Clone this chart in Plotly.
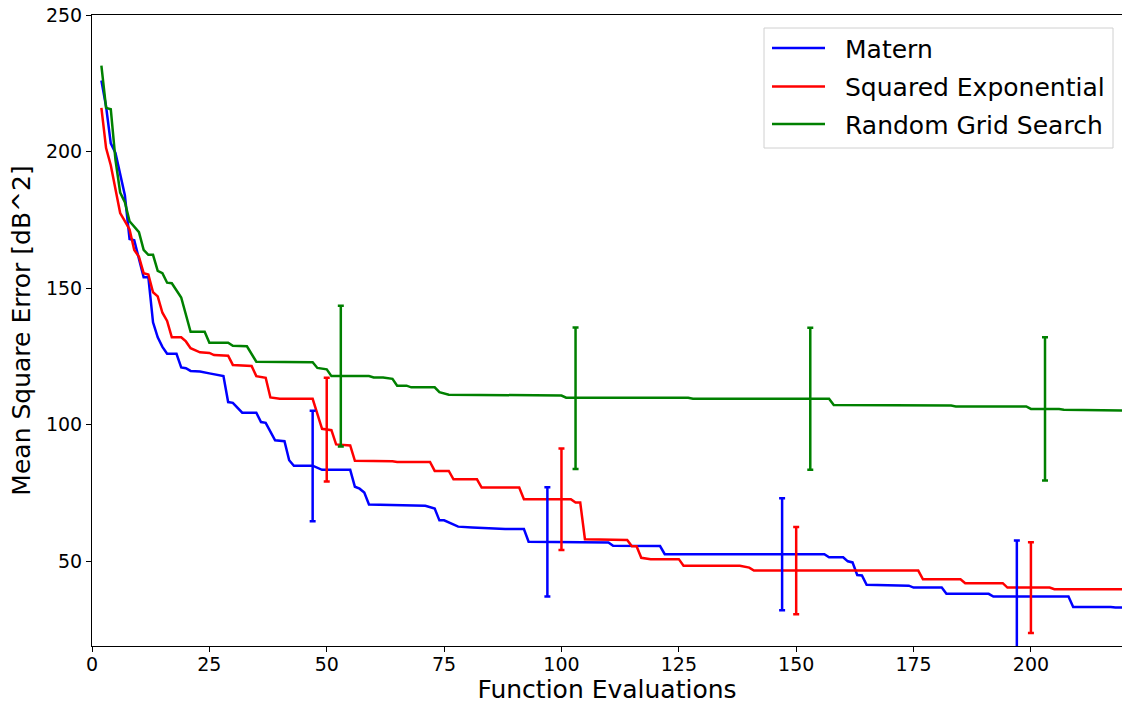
import plotly.graph_objects as go

# Matern (blue) - vertices
matern_x = [2, 3, 4, 5, 7, 8, 9, 10, 11, 12, 13, 14, 15, 16, 18, 19, 20, 21, 23, 25, 27, 28, 29, 30,
            32, 35, 36, 37, 39, 41, 42, 43, 47, 49, 55, 56, 57, 58, 59, 71, 73, 74, 75, 78, 81, 88, 92,
            93, 110, 111, 121, 122, 156, 157, 160, 161, 162, 163, 164, 165, 174, 175, 181, 182, 191,
            192, 208, 209, 217, 218, 220]
matern_y = [226, 216.5, 203, 199.5, 184, 168, 167.5, 161, 154, 154, 137.5, 132, 128.5, 126, 126, 121,
            120.7, 119.7, 119.5, 118.8, 118, 117.8, 108.3, 108, 104.4, 104.4, 101, 100.7, 94.3, 94,
            87, 85, 85, 83.5, 83.5, 77.3, 76.6, 75.2, 70.8, 70.3, 69.3, 65, 65, 62.7, 62.4, 61.8, 61.8,
            57.2, 56.9, 55.7, 55.6, 52.6, 52.6, 51.5, 51.5, 50, 49.6, 45, 44.8, 41.4, 41.1, 40.4, 40.4,
            38.1, 38.1, 37.1, 37.1, 33.3, 33.3, 33.1, 33.1]

# Squared Exponential (red)
sqexp_x = [2, 3, 4, 6, 7, 8, 9, 10, 11, 12, 13, 14, 15, 16, 17, 19, 20, 21, 23, 25, 26, 29, 30, 33,
           34, 35, 37, 38, 40, 47, 49, 51, 52, 55, 56, 64, 65, 72, 73, 76, 77, 82, 83, 91, 92, 102,
           103, 104, 105, 114, 115, 116, 117, 119, 125, 126, 138, 140, 141, 176, 177, 185, 186, 194,
           195, 204, 205, 220]
sqexp_y = [216, 201.3, 195, 177.5, 174.5, 171.5, 164, 161.5, 155.5, 155, 148.5, 147, 141, 138, 132,
           132, 130.5, 128, 126.5, 126.3, 125.5, 125.3, 121.9, 121.7, 121.5, 117.8, 117.2, 110, 109.5,
           109.5, 98.5, 98, 92.8, 92.4, 86.8, 86.6, 86.4, 86.4, 83.1, 83.1, 80, 80, 77, 77, 72.7, 72.7,
           71.5, 71.5, 58.1, 57.8, 55.5, 55.5, 51.3, 50.8, 50.8, 48.4, 48.4, 47.7, 46.6, 46.6, 43.4,
           43.4, 42, 42, 40.4, 40.4, 39.8, 39.8]

# Random Grid Search (green)
rgs_x = [2, 3, 4, 5, 6, 7, 8, 9, 10, 11, 12, 13, 14, 15, 16, 17, 18, 19, 21, 24, 25, 29, 30, 33, 35,
         41, 47, 48, 50, 51, 59, 60, 62, 64, 65, 67, 68, 73, 74, 76, 100, 101, 127, 128, 157, 158,
         183, 184, 199, 200, 206, 207, 220]
rgs_y = [231.5, 216, 215.5, 197, 185, 181.5, 174.5, 172.3, 170.5, 164, 162.2, 162.2, 156.3, 155.5,
         152, 151.8, 149, 146.6, 134, 134, 130, 130, 128.9, 128.7, 123.1, 122.9, 122.9, 120.8, 120.3,
         117.8, 117.8, 117.3, 117.3, 116.8, 114.3, 114.3, 113.7, 113.7, 111.9, 111, 110.7, 109.9,
         109.9, 109.5, 109.5, 107.2, 107, 106.7, 106.7, 105.8, 105.8, 105.5, 105.2]

# Error bars
matern_err_x = [47, 97, 147, 197]
matern_err_y = [84.9, 57.1, 52.6, 37.1]
matern_err = [20.2, 20.0, 20.5, 20.5]

sqexp_err_x = [50, 100, 150, 200]
sqexp_err_y = [98.2, 72.7, 46.6, 40.4]
sqexp_err = [19.0, 18.6, 16.0, 16.6]

rgs_err_x = [53, 103, 153, 203]
rgs_err_y = [117.8, 109.7, 109.5, 105.8]
rgs_err = [25.8, 25.9, 26.0, 26.2]

x_ticks = [0, 25, 50, 75, 100, 125, 150, 175, 200]
y_ticks = [50, 100, 150, 200, 250]
legend_names = ["Matern", "Squared Exponential", "Random Grid Search"]

BLUE, RED, GREEN = "#0000ff", "#ff0000", "#008000"
colors = [BLUE, RED, GREEN]

W, H = 1122, 704
ML, MR, MT, MB = 92, 0, 15, 58
PW, PH = W - ML - MR, H - MT - MB


def px_x(p):
    return (p - ML) / PW


def px_y(p):
    return (H - MB - p) / PH


fig = go.Figure()
series = [(matern_x, matern_y), (sqexp_x, sqexp_y), (rgs_x, rgs_y)]
for name, (xs, ys), c in zip(legend_names, series, colors):
    fig.add_trace(go.Scatter(x=xs, y=ys, mode="lines", name=name, showlegend=False,
                             line=dict(color=c, width=2.5)))

errs = [
    (matern_err_x, matern_err_y, matern_err),
    (sqexp_err_x, sqexp_err_y, sqexp_err),
    (rgs_err_x, rgs_err_y, rgs_err),
]
for (xs, ys, es), c in zip(errs, colors):
    fig.add_trace(go.Scatter(x=xs, y=ys, mode="markers", showlegend=False,
                             marker=dict(size=0.1, color=c),
                             error_y=dict(type="data", array=es, visible=True,
                                          color=c, thickness=2.5, width=3),
                             hoverinfo="skip"))

font = "DejaVu Sans, Arial, sans-serif"

# legend drawn as shapes + annotations (matplotlib-style)
shapes = [dict(type="rect", xref="paper", yref="paper",
               x0=px_x(764), x1=px_x(1113), y0=px_y(148), y1=px_y(28),
               line=dict(color="#d0d0d0", width=1), fillcolor="rgba(255,255,255,0.85)",
               layer="above")]
annotations = []
row_y = [48, 86.5, 124]
for name, c, ry in zip(legend_names, colors, row_y):
    shapes.append(dict(type="line", xref="paper", yref="paper",
                       x0=px_x(772), x1=px_x(825), y0=px_y(ry), y1=px_y(ry),
                       line=dict(color=c, width=2.5), layer="above"))
    annotations.append(dict(xref="paper", yref="paper", x=px_x(843), y=px_y(ry + 1),
                            text=name, showarrow=False, xanchor="left", yanchor="middle",
                            font=dict(size=25, family=font, color="black")))

fig.update_layout(
    width=W, height=H,
    margin=dict(l=ML, r=MR, t=MT, b=MB),
    paper_bgcolor="white", plot_bgcolor="white",
    font=dict(family=font, color="black", size=19),
    showlegend=False,
    shapes=shapes,
    annotations=annotations,
    xaxis=dict(range=[0, 219.4], tickvals=x_ticks, ticks="outside", ticklen=5,
               tickcolor="black", showline=True, linecolor="black", linewidth=1,
               mirror=True, showgrid=False, zeroline=False,
               tickfont=dict(size=19), ticklabelstandoff=-4,
               title=dict(text="Function Evaluations", font=dict(size=25), standoff=8)),
    yaxis=dict(range=[19, 250], tickvals=y_ticks, ticks="outside", ticklen=5,
               tickcolor="black", showline=True, linecolor="black", linewidth=1,
               showgrid=False, zeroline=False,
               tickfont=dict(size=19),
               title=dict(text="Mean Square Error [dB^2]", font=dict(size=25), standoff=8)),
)

fig.write_html("out.html")
